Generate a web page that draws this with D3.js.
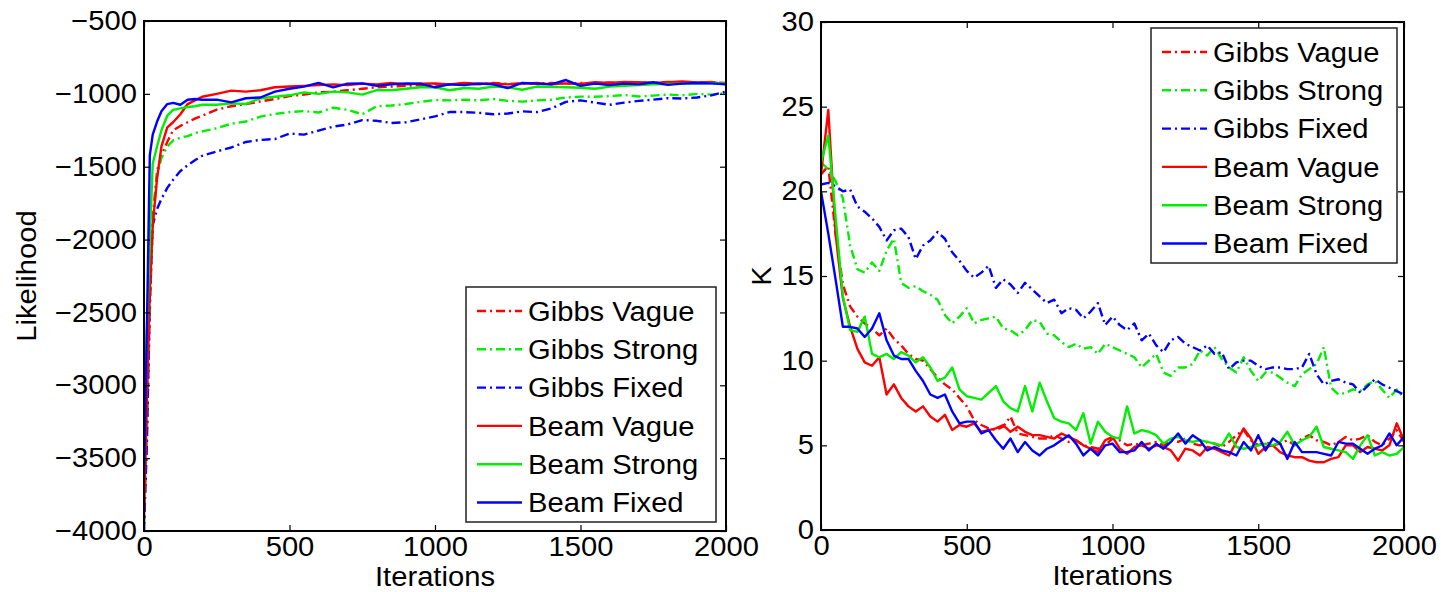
<!DOCTYPE html>
<html><head><meta charset="utf-8">
<script src="https://cdn.jsdelivr.net/npm/d3@7"></script>
<style>body{margin:0;background:#fff}text{font-family:"Liberation Sans",Arial,Helvetica,sans-serif}</style>
</head><body><svg id="c" width="1441" height="592"></svg>
<script>
// ---------- data ----------
const seriesNames = ["Gibbs Vague","Gibbs Strong","Gibbs Fixed","Beam Vague","Beam Strong","Beam Fixed"];
const seriesColors = ["#ff0000","#00ee00","#0000ff","#ff0000","#00ee00","#0000ff"];
const seriesDashed = [true,true,true,false,false,false];

const xTicks = [0,500,1000,1500,2000];
const leftYTicks = [-4000,-3500,-3000,-2500,-2000,-1500,-1000,-500];
const rightYTicks = [0,5,10,15,20,25,30];

// Left panel iterations
const itL = [0,10,20,30,45,60,80,100,125,150,175,200,250,300,350,400,450,500,550,600,650,700,750,800,850,900,950,1000,1050,1100,1150,1200,1250,1300,1350,1400,1450,1500,1550,1600,1650,1700,1750,1800,1850,1900,1950,2000];
const likGibbsVague = [-3950,-3300,-2500,-1850,-1530,-1420,-1330,-1250,-1220,-1195,-1170,-1150,-1108,-1085,-1070,-1052,-1035,-1015,-1005,-990,-985,-975,-965,-955,-950,-945,-940,-935,-938,-930,-935,-925,-932,-928,-930,-925,-930,-925,-928,-922,-925,-920,-925,-918,-925,-920,-922,-925];
const likGibbsStrong = [-3950,-3200,-2400,-1900,-1560,-1440,-1360,-1320,-1300,-1290,-1270,-1258,-1236,-1205,-1190,-1156,-1138,-1125,-1118,-1128,-1095,-1110,-1140,-1085,-1080,-1070,-1055,-1042,-1045,-1040,-1045,-1035,-1048,-1053,-1045,-1040,-1025,-1019,-1020,-1015,-1008,-1018,-1012,-1005,-1010,-1000,-1005,-995];
const likGibbsFixed = [-4000,-3400,-2400,-1900,-1790,-1720,-1645,-1590,-1530,-1490,-1455,-1425,-1395,-1368,-1330,-1316,-1310,-1272,-1280,-1252,-1225,-1210,-1180,-1185,-1200,-1195,-1175,-1155,-1125,-1125,-1130,-1140,-1135,-1120,-1125,-1100,-1055,-1045,-1060,-1075,-1060,-1048,-1040,-1030,-1032,-1025,-1010,-985];
const likBeamVague = [-3900,-3100,-2350,-1900,-1580,-1360,-1230,-1195,-1140,-1070,-1045,-1020,-1000,-978,-985,-975,-955,-950,-945,-940,-935,-940,-930,-935,-925,-935,-930,-928,-935,-925,-930,-928,-935,-930,-925,-935,-928,-932,-920,-925,-918,-920,-925,-920,-915,-922,-918,-935];
const likBeamStrong = [-3300,-2600,-2000,-1480,-1360,-1250,-1150,-1110,-1100,-1090,-1085,-1075,-1075,-1065,-1070,-1030,-1020,-1010,-990,-1000,-985,-990,-1005,-975,-975,-965,-955,-955,-975,-960,-965,-950,-955,-972,-950,-952,-955,-958,-965,-950,-945,-940,-935,-932,-930,-928,-925,-930];
const likBeamFixed = [-3650,-2600,-1420,-1280,-1190,-1120,-1070,-1062,-1075,-1040,-1035,-1040,-1040,-1058,-1030,-1025,-985,-965,-950,-925,-955,-930,-928,-945,-935,-928,-930,-955,-935,-940,-930,-935,-960,-925,-930,-935,-905,-945,-930,-940,-930,-935,-920,-938,-930,-925,-928,-935];

// Right panel iterations (every 25)
const itR = d3.range(0, 2001, 25);
const kGibbsVague = [21.0,21.5,17.5,14.5,13.2,12.6,12.2,11.9,11.5,11.9,11.3,10.9,10.4,10.1,10.0,9.5,9.0,8.6,8.3,7.8,7.3,6.5,6.2,6.0,5.9,6.1,6.7,5.7,5.6,5.5,5.4,5.4,5.6,5.4,5.2,5.3,5.0,4.9,4.8,5.0,5.4,5.3,5.0,5.1,5.0,5.1,5.2,5.0,5.3,5.2,5.4,5.1,5.0,5.2,5.1,4.9,5.2,5.6,5.9,5.3,5.0,5.2,5.0,5.1,5.3,5.0,5.4,5.6,5.3,5.2,5.0,5.2,5.5,5.3,5.4,5.6,5.2,5.0,5.4,5.9,5.2];
const kGibbsStrong = [21.7,21.3,20.6,19.6,16.8,15.4,15.2,15.8,15.3,16.5,17.2,14.6,14.3,14.4,14.1,13.9,13.6,12.7,12.2,12.6,13.1,12.2,12.4,12.5,12.6,11.9,11.8,11.5,11.8,12.4,12.3,11.6,11.5,11.1,10.8,11.0,10.7,10.8,10.4,11.0,10.8,10.6,10.4,10.2,9.6,10.0,10.4,9.3,9.1,9.6,9.6,9.8,10.6,10.3,10.8,10.1,9.6,9.3,10.2,9.4,8.8,9.3,9.3,9.0,8.7,8.5,9.2,9.5,9.8,10.8,8.4,8.0,8.1,8.3,8.2,8.6,8.8,8.3,7.8,8.3,7.8];
const kGibbsFixed = [20.4,20.5,20.3,20.0,20.1,19.1,18.8,18.4,17.9,17.1,17.7,17.8,17.3,16.0,16.8,17.1,17.6,17.2,16.4,15.9,15.3,14.9,15.2,15.6,14.3,14.8,14.5,14.0,14.6,14.2,13.8,13.4,13.6,12.8,13.1,13.0,12.5,12.9,13.4,12.1,12.6,12.1,11.8,12.2,11.2,11.6,10.9,10.5,11.2,11.4,11.0,10.8,10.6,10.9,10.4,10.5,9.5,9.9,10.0,10.0,9.7,9.5,9.6,9.6,9.5,9.5,9.6,10.4,9.2,8.6,8.8,8.9,8.7,8.6,8.1,8.5,8.9,8.6,8.4,8.2,8.0];
const kBeamVague = [21.0,24.8,17.5,13.7,12.0,10.7,9.9,9.7,10.2,8.0,8.6,7.8,7.3,7.0,7.3,6.7,6.4,6.8,5.9,6.2,6.1,6.3,5.8,5.9,6.0,6.2,5.8,6.1,5.8,5.6,5.6,5.5,5.4,5.7,5.5,5.3,5.0,4.8,4.6,5.3,5.5,4.8,4.5,4.9,5.0,4.8,5.0,4.9,4.7,4.1,4.8,4.7,4.4,4.9,4.8,4.6,4.4,5.2,6.0,5.4,4.5,4.9,5.0,4.6,4.4,4.3,4.3,4.1,4.0,4.0,4.2,4.3,5.0,5.0,4.6,4.9,4.8,4.7,5.0,6.3,5.3];
const kBeamStrong = [21.7,23.3,18.5,13.8,11.8,11.7,12.6,10.4,10.2,10.4,10.1,10.5,10.3,9.9,10.2,9.6,8.8,9.0,9.6,8.3,7.9,7.8,7.7,8.1,8.5,7.6,7.2,7.0,8.5,7.0,8.7,7.6,6.6,6.4,6.3,5.9,6.9,5.1,6.4,5.8,5.5,5.4,7.3,5.7,5.9,5.8,5.6,5.1,5.4,5.5,5.3,5.2,5.3,5.2,5.1,5.0,5.7,4.9,4.8,4.9,5.0,5.1,5.0,5.2,5.8,5.0,5.3,5.5,6.1,4.9,4.8,4.7,4.6,4.2,5.0,5.6,4.4,4.6,4.4,4.5,4.9];
const kBeamFixed = [20.0,17.5,14.8,12.0,12.0,11.9,11.4,11.9,12.8,11.2,10.3,10.1,10.1,9.4,8.8,8.0,7.8,8.0,7.0,6.3,6.4,6.4,5.7,5.9,5.3,4.8,5.4,4.6,5.2,4.7,4.4,4.8,5.0,5.3,5.6,5.1,4.4,4.8,4.4,5.0,5.1,4.6,4.6,4.7,5.2,4.7,5.1,4.8,5.2,5.7,5.1,5.6,5.3,4.7,4.9,4.7,4.6,4.4,5.2,4.7,5.6,4.7,5.4,5.1,4.2,5.2,4.6,4.6,4.6,4.5,4.4,5.2,5.1,5.1,4.8,4.5,4.8,5.0,5.7,5.0,5.5];

const leftSeries = [likGibbsVague,likGibbsStrong,likGibbsFixed,likBeamVague,likBeamStrong,likBeamFixed];
const rightSeries = [kGibbsVague,kGibbsStrong,kGibbsFixed,kBeamVague,kBeamStrong,kBeamFixed];

// ---------- drawing ----------
const svg = d3.select("#c");
const FS = 27;
const STRETCH = 1.08;
const dashPattern = "9,4,2,4";

function panel(opt){
  const g = svg.append("g");
  const x = d3.scaleLinear().domain([0,2000]).range([opt.x0,opt.x1]);
  const y = d3.scaleLinear().domain(opt.yDomain).range([opt.y1,opt.y0]);
  const fmt = d => (d<0 ? "\u2212"+Math.abs(d) : ""+d);

  const clipId = "clip"+opt.id;
  svg.append("clipPath").attr("id",clipId).append("rect")
    .attr("x",opt.x0).attr("y",opt.y0).attr("width",opt.x1-opt.x0).attr("height",opt.y1-opt.y0);
  const lg = g.append("g").attr("clip-path",`url(#${clipId})`);
  opt.series.forEach((vals,i)=>{
    const line = d3.line().x((d,j)=>x(opt.its[j])).y(d=>y(d));
    lg.append("path").datum(vals).attr("d",line)
      .attr("fill","none").attr("stroke",seriesColors[i]).attr("stroke-width",2.4)
      .attr("stroke-linejoin","round")
      .attr("stroke-dasharray",seriesDashed[i]?dashPattern:null);
  });

  const ax = g.append("g").attr("transform",`translate(0,${opt.y1})`)
    .call(d3.axisBottom(x).tickValues(xTicks).tickSize(-6).tickPadding(5).tickFormat(d=>d));
  const axTop = g.append("g").attr("transform",`translate(0,${opt.y0})`)
    .call(d3.axisTop(x).tickValues(xTicks).tickSize(-6).tickFormat(""));
  const ay = g.append("g").attr("transform",`translate(${opt.x0},0)`)
    .call(d3.axisLeft(y).tickValues(opt.yTicks).tickSize(-6).tickPadding(7).tickFormat(fmt));
  const ayR = g.append("g").attr("transform",`translate(${opt.x1},0)`)
    .call(d3.axisRight(y).tickValues(opt.yTicks).tickSize(-6).tickFormat(""));
  [ax,axTop,ay,ayR].forEach(a=>{
    a.select(".domain").remove();
    a.selectAll("line").attr("stroke","#000").attr("stroke-width",1.2);
    a.selectAll("text").attr("font-size",FS).attr("fill","#000");
  });
  ax.selectAll("text").attr("dy","0.74em");
  g.append("rect").attr("x",opt.x0).attr("y",opt.y0).attr("width",opt.x1-opt.x0).attr("height",opt.y1-opt.y0)
    .attr("fill","none").attr("stroke","#000").attr("stroke-width",2);

  g.append("text").attr("x",(opt.x0+opt.x1)/2).attr("y",opt.y1+55).attr("text-anchor","middle")
    .attr("font-size",FS).text("Iterations");
  g.append("text").attr("transform",`translate(${opt.yLabelX},${(opt.y0+opt.y1)/2}) rotate(-90)`)
    .attr("text-anchor","middle").attr("font-size",FS).text(opt.yLabel);

  const L = opt.legend;
  const lgd = g.append("g");
  lgd.append("rect").attr("x",L.x).attr("y",L.y).attr("width",L.w).attr("height",L.h)
    .attr("fill","#fff").attr("stroke","#222").attr("stroke-width",1.5);
  seriesNames.forEach((n,i)=>{
    const cy = L.y + 24 + i*38.3;
    lgd.append("line").attr("x1",L.x+11).attr("x2",L.x+56).attr("y1",cy).attr("y2",cy)
      .attr("stroke",seriesColors[i]).attr("stroke-width",2.4)
      .attr("stroke-dasharray",seriesDashed[i]?dashPattern:null);
    lgd.append("text").attr("x",L.x+62).attr("y",cy).attr("dy","0.36em")
      .attr("font-size",FS).text(n);
  });
}

panel({id:"L",x0:144,x1:726,y0:21,y1:531,yDomain:[-4000,-500],yTicks:leftYTicks,
  its:itL,series:leftSeries,yLabel:"Likelihood",yLabelX:36,
  legend:{x:466,y:287,w:250,h:235}});
panel({id:"R",x0:821,x1:1404,y0:22,y1:530,yDomain:[0,30],yTicks:rightYTicks,
  its:itR,series:rightSeries,yLabel:"K",yLabelX:771,
  legend:{x:1151,y:28,w:246,h:235}});

// widen glyphs slightly to match the reference's wider lettering
svg.selectAll("text").each(function(){
  const t = this.textContent;
  if(!t) return;
  const len = this.getComputedTextLength();
  d3.select(this).attr("textLength",len*STRETCH).attr("lengthAdjust","spacingAndGlyphs");
});
</script></body></html>
